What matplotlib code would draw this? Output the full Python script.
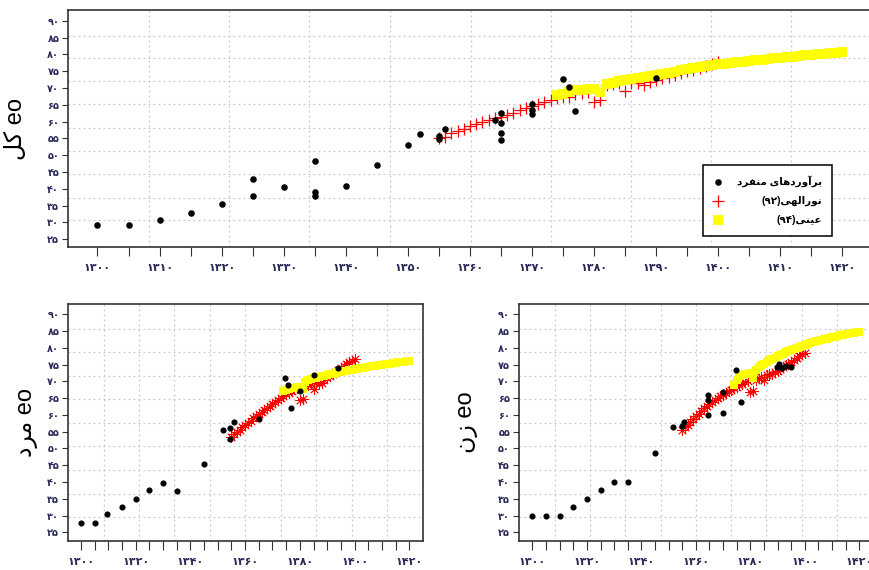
import re
import unicodedata

import matplotlib
matplotlib.use('Agg')
import matplotlib.pyplot as plt
from matplotlib.ticker import FixedLocator


# --- data -------------------------------------------------------------------
# individual estimates (black dots)
all_pts_x = [1300, 1305, 1310, 1315, 1320, 1325, 1325, 1330, 1335, 1335, 1335, 1340, 1345,
             1350, 1352, 1355, 1355, 1356, 1364, 1365, 1365, 1365, 1365, 1370, 1370, 1370,
             1375, 1376, 1377, 1390]
all_pts_y = [29.2, 29.2, 30.7, 32.9, 35.4, 42.9, 37.9, 40.5, 48.4, 39.1, 38.0, 40.9, 47.0,
             53.1, 56.4, 55.7, 54.7, 57.7, 60.5, 62.5, 59.7, 56.7, 54.5, 65.1, 63.4, 62.2,
             72.7, 70.2, 63.1, 72.9]

male_pts_x = [1300, 1305, 1309.6, 1315, 1320, 1325, 1330, 1335, 1345, 1352, 1354.5, 1356,
              1354.5, 1365, 1374.6, 1375.8, 1376.8, 1380, 1385, 1394]
male_pts_y = [27.9, 27.9, 30.4, 32.5, 35.0, 37.6, 39.8, 37.2, 45.3, 55.4, 56.1, 57.9,
              52.8, 58.7, 70.9, 68.9, 62.0, 67.2, 71.8, 73.9]

female_pts_x = [1300, 1305, 1310, 1315, 1320, 1325, 1330, 1335, 1345, 1351.5, 1354.8, 1355.5,
                1364.6, 1364.6, 1364.6, 1369.8, 1369.8, 1374.8, 1376.6, 1389.7, 1390.5,
                1391.5, 1393, 1394.8]
female_pts_y = [30.0, 30.0, 30.0, 32.5, 35.0, 37.6, 40.1, 40.1, 48.6, 56.4, 56.8, 57.8,
                65.9, 64.4, 60.0, 66.9, 60.5, 73.5, 63.8, 74.4, 75.2,
                74.0, 74.6, 74.2]

# Noorolahi (92), yearly 1355-1400
red_years = list(range(1355, 1401))
red_all = [55.0, 55.4, 56.6, 57.2, 57.8, 58.6, 59.2, 59.8, 60.4, 61.0,
           61.5, 62.1, 62.7, 63.3, 63.9, 64.6, 65.1, 65.7, 66.3, 66.9,
           67.2, 67.4, 68.2, 68.4, 68.9, 65.9, 66.3, 70.9, 71.3, 71.6,
           69.2, 71.4, 71.4, 70.9, 71.9, 72.4, 72.9, 73.4, 73.9, 74.4,
           75.0, 75.4, 75.9, 76.4, 77.0, 77.6]
red_male = [53.5, 54.2, 54.9, 55.6, 56.3, 57.0, 57.6, 58.3, 59.0, 59.6,
            60.2, 60.9, 61.5, 62.1, 62.7, 63.3, 63.9, 64.5, 65.0, 65.6,
            66.1, 66.6, 67.2, 67.6, 68.1, 64.5, 64.6, 68.6, 69.0, 69.4,
            67.6, 69.6, 69.4, 69.4, 70.4, 71.0, 71.6, 72.1, 72.7, 73.3,
            73.9, 74.5, 75.1, 75.7, 76.2, 76.6]
red_female = [55.5, 56.3, 57.1, 57.9, 58.8, 59.6, 60.4, 61.2, 62.0, 62.8,
              63.4, 64.0, 64.5, 65.0, 65.5, 66.0, 66.5, 67.0, 67.5, 68.0,
              68.4, 68.8, 69.3, 69.7, 70.1, 66.9, 67.1, 70.5, 71.0, 71.4,
              70.3, 71.9, 72.3, 72.2, 72.7, 73.2, 73.7, 74.2, 74.8, 75.3,
              75.9, 76.5, 77.1, 77.7, 78.2, 78.6]

# Eini (94), yearly 1374-1420
yel_years = list(range(1374, 1421))
yel_all = [67.9, 68.3, 68.9, 69.3, 69.5, 69.6, 69.7, 68.8, 71.2, 71.6,
           72.0, 72.4, 72.7, 73.0, 73.4, 73.7, 74.0, 74.3, 74.6, 74.9,
           75.2, 75.5, 75.8, 76.1, 76.4, 76.7, 77.0, 77.2, 77.4, 77.6,
           77.8, 78.0, 78.2, 78.4, 78.6, 78.8, 79.0, 79.2, 79.3, 79.5,
           79.7, 79.8, 80.0, 80.1, 80.3, 80.4, 80.6]
yel_male = [67.0, 67.4, 67.7, 67.9, 68.1, 68.3, 68.4, 67.6, 69.8, 70.3,
            70.6, 70.9, 71.1, 71.3, 71.5, 71.7, 71.9, 72.1, 72.3, 72.5,
            72.7, 72.9, 73.0, 73.2, 73.4, 73.5, 73.7, 73.8, 74.0, 74.1,
            74.2, 74.4, 74.5, 74.6, 74.7, 74.9, 75.0, 75.1, 75.2, 75.3,
            75.4, 75.5, 75.7, 75.8, 75.9, 76.0, 76.1]
yel_female = [69.0, 70.3, 71.5, 72.0, 72.2, 72.3, 72.4, 71.0, 73.5, 74.2,
              74.8, 75.3, 75.8, 76.3, 76.7, 77.1, 77.5, 77.9, 78.3, 78.7,
              79.0, 79.4, 79.7, 80.0, 80.3, 80.6, 80.8, 81.1, 81.4, 81.6,
              81.9, 82.1, 82.3, 82.5, 82.7, 82.9, 83.1, 83.3, 83.5, 83.7,
              83.9, 84.0, 84.2, 84.4, 84.5, 84.7, 84.8]

label_points = 'برآوردهای منفرد'
label_red = 'نورالهی(۹۲)'
label_yel = 'عینی(۹۴)'
ylabel_all = 'کل eo'
ylabel_male = 'مرد eo'
ylabel_female = 'زن eo'

y_ticks = list(range(25, 95, 5))
x_ticks = list(range(1300, 1425, 5))


# --- persian text helpers (matplotlib does no arabic shaping) ---------------
# isolated, final, initial, medial
FORMS = {
    'ا': ('\uFE8D', '\uFE8E', None, None),
    'آ': ('\uFE81', '\uFE82', None, None),
    'د': ('\uFEA9', '\uFEAA', None, None),
    'ر': ('\uFEAD', '\uFEAE', None, None),
    'ز': ('\uFEAF', '\uFEB0', None, None),
    'و': ('\uFEED', '\uFEEE', None, None),
    'ب': ('\uFE8F', '\uFE90', '\uFE91', '\uFE92'),
    'ع': ('\uFEC9', '\uFECA', '\uFECB', '\uFECC'),
    'ف': ('\uFED1', '\uFED2', '\uFED3', '\uFED4'),
    'ک': ('\uFB8E', '\uFB8F', '\uFB90', '\uFB91'),
    'ل': ('\uFEDD', '\uFEDE', '\uFEDF', '\uFEE0'),
    'م': ('\uFEE1', '\uFEE2', '\uFEE3', '\uFEE4'),
    'ن': ('\uFEE5', '\uFEE6', '\uFEE7', '\uFEE8'),
    'ه': ('\uFEE9', '\uFEEA', '\uFEEB', '\uFEEC'),
    'ی': ('\uFBFC', '\uFBFD', '\uFBFE', '\uFBFF'),
}
ARABIC_RUN = re.compile('([\uFB50-\uFDFF\uFE70-\uFEFF]+(?: [\uFB50-\uFDFF\uFE70-\uFEFF]+)*)')


def fa(text, rtl=True):
    text = unicodedata.normalize('NFC', text).replace('ي', 'ی').replace('ك', 'ک')
    out = []
    for i, ch in enumerate(text):
        if ch not in FORMS:
            out.append(ch)
            continue
        prev = text[i - 1] if i > 0 else ''
        nxt = text[i + 1] if i + 1 < len(text) else ''
        join_prev = prev in FORMS and FORMS[prev][2] is not None
        join_next = nxt in FORMS and FORMS[ch][2] is not None
        iso, fin, ini, med = FORMS[ch]
        if join_prev and join_next:
            out.append(med)
        elif join_prev:
            out.append(fin)
        elif join_next:
            out.append(ini)
        else:
            out.append(iso)
    runs = [r for r in ARABIC_RUN.split(''.join(out)) if r]
    runs = [r[::-1] if ARABIC_RUN.fullmatch(r) else r for r in runs]
    if rtl:
        runs = runs[::-1]
    return ''.join(runs)


FA_DIGITS = str.maketrans('0123456789', '۰۱۲۳۴۵۶۷۸۹')


def fa_num(n):
    return str(n).translate(FA_DIGITS)


# --- drawing ----------------------------------------------------------------
plt.rcParams['font.family'] = ['Liberation Sans', 'DejaVu Sans']
TICK_COLOR = '#2a2a58'
SPINE_COLOR = '#333333'


def draw_panel(ax, pts_x, pts_y, red_y, yel_y, xlim, ylim, grid_x, grid_y,
               label_step, ylabel, label_x, big):
    ms_dot = 3.7 if big else 3.4
    l1, = ax.plot(pts_x, pts_y, 'o', color='black', ms=ms_dot, zorder=5)
    if big:
        l2, = ax.plot(red_years, red_y, '+', color='red', ms=9, mew=0.9, zorder=3)
        l3, = ax.plot(yel_years, yel_y, 's', color='#ffff00', ms=6.5, mew=0, zorder=4)
    else:
        l2, = ax.plot(red_years, red_y, marker=(8, 2, 0), ls='none', color='red',
                      ms=7.5, mew=0.6, zorder=3)
        l3, = ax.plot(yel_years, yel_y, 's', color='#ffff00', ms=5.2, mew=0, zorder=4)

    ax.set_xlim(*xlim)
    ax.set_ylim(*ylim)

    ax.set_yticks(y_ticks)
    ax.set_yticklabels([fa_num(v) for v in y_ticks])
    ax.set_xticks(x_ticks)
    ax.set_xticklabels([fa_num(v) if v % label_step == 0 else '' for v in x_ticks])

    ax.xaxis.set_minor_locator(FixedLocator(grid_x))
    ax.yaxis.set_minor_locator(FixedLocator(grid_y))
    ax.grid(which='minor', color='#c8c8c8', linestyle=(0, (1.5, 2.5)), linewidth=0.9)
    ax.grid(which='major', visible=False)
    ax.tick_params(which='minor', length=0)
    ax.tick_params(axis='y', which='major', direction='out', length=4.5, width=0.8,
                   color=SPINE_COLOR, labelcolor=TICK_COLOR, labelsize=7, pad=2)
    ax.tick_params(axis='x', which='major', direction='out', length=6.5, width=0.8,
                   color=SPINE_COLOR, labelcolor=TICK_COLOR, labelsize=8, pad=5)
    for lab in ax.get_xticklabels() + ax.get_yticklabels():
        lab.set_fontweight('bold')
    ax.set_axisbelow(True)

    for sp in ax.spines.values():
        sp.set_color(SPINE_COLOR)
        sp.set_linewidth(1.2)

    ax.set_ylabel(fa(ylabel, rtl=False), fontsize=17)
    ax.yaxis.set_label_coords(label_x, 0.5)
    return l1, l2, l3


fig = plt.figure(figsize=(8.7, 5.7), dpi=100)
ax_all = fig.add_axes([0.0785, 0.5661, 0.9226, 0.4158])
ax_male = fig.add_axes([0.0785, 0.0509, 0.4074, 0.4153])
ax_female = fig.add_axes([0.5966, 0.0509, 0.4046, 0.4153])

grid_x = [1308.3, 1321.2, 1334.1, 1347.1, 1360.1, 1373.0, 1385.9, 1398.9, 1411.8]
grid_y_top = [30.6, 37.4, 44.3, 51.3, 58.2, 65.1, 72.0, 79.0, 85.6]
grid_y_bottom = [29.5, 36.5, 43.6, 50.6, 57.6, 64.6, 71.6, 78.7, 85.5]

handles = draw_panel(ax_all, all_pts_x, all_pts_y, red_all, yel_all,
                     (1295.3, 1424.6), (22.6, 93.1), grid_x, grid_y_top,
                     10, ylabel_all, -0.052, True)
draw_panel(ax_male, male_pts_x, male_pts_y, red_male, yel_male,
           (1295.4, 1424.9), (22.4, 93.0), grid_x, grid_y_bottom,
           20, ylabel_male, -0.085, False)
draw_panel(ax_female, female_pts_x, female_pts_y, red_female, yel_female,
           (1295.1, 1424.3), (22.4, 93.0), grid_x, grid_y_bottom,
           20, ylabel_female, -0.117, False)

leg = ax_all.legend(handles, [fa(label_points), fa(label_red), fa(label_yel)],
                    loc='lower right', bbox_to_anchor=(0.952, 0.049),
                    prop={'weight': 'bold', 'size': 7.5}, frameon=True, fancybox=False,
                    edgecolor='black', framealpha=1, borderpad=1.0, labelspacing=0.85,
                    handlelength=1.0, handletextpad=1.3, numpoints=1, borderaxespad=0)
leg.get_frame().set_linewidth(1.1)
leg.set_zorder(10)

# right-align the persian legend labels
fig.canvas.draw()
renderer = fig.canvas.get_renderer()
widths = [t.get_window_extent(renderer).width for t in leg.get_texts()]
for t, w in zip(leg.get_texts(), widths):
    t.set_x(max(widths) - w)

fig.savefig('out.png', dpi=100)
